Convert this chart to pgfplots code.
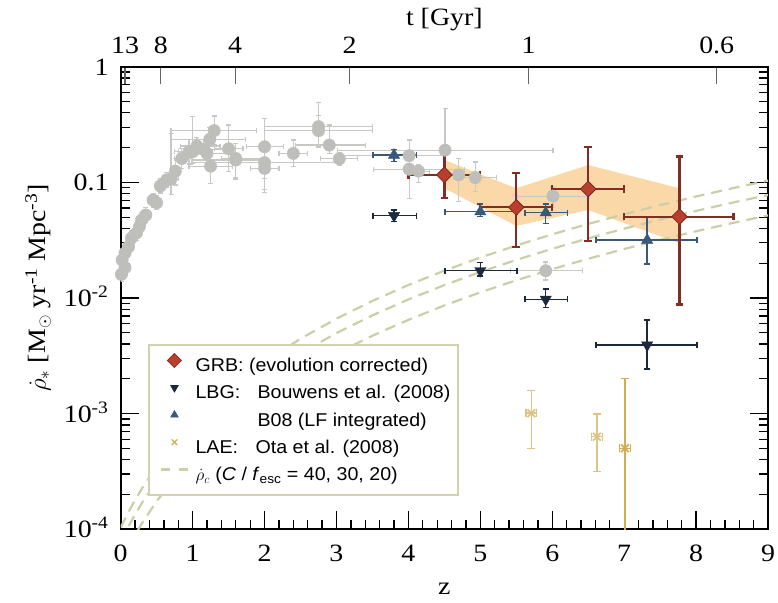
\documentclass[border=0pt]{standalone}
\usepackage{fontspec}
\setmainfont{Liberation Serif}[FakeStretch=1.12]
\newfontfamily\legfont{Liberation Sans}[FakeStretch=1.06]
\usepackage{pgfplots}
\usepackage{pgfplotstable}
\pgfplotsset{compat=1.18}

\definecolor{greypt}{RGB}{190,190,186}
\definecolor{greybar}{RGB}{200,200,196}
\definecolor{grbfill}{RGB}{186,62,45}
\definecolor{grbdraw}{RGB}{125,40,30}
\definecolor{grbbar}{RGB}{128,46,36}
\definecolor{bzero}{RGB}{58,88,122}
\definecolor{lbg}{RGB}{28,40,60}
\definecolor{laeA}{RGB}{222,196,132}
\definecolor{laeB}{RGB}{212,172,82}
\definecolor{critc}{RGB}{203,207,168}
\definecolor{bandc}{RGB}{250,216,168}
\definecolor{legc}{RGB}{208,210,176}
\definecolor{tickgrey}{RGB}{100,100,100}

\pgfplotstableread{
z y zm zp ym yp
0.01 0.0160 0.01 0.05 0.0020 0.0020
0.06 0.0183 0.03 0.04 0.0025 0.0025
0.02 0.0213 0.02 0.05 0.0030 0.0030
0.06 0.0245 0.04 0.04 0.0030 0.0035
0.11 0.0278 0.05 0.05 0.0035 0.0040
0.15 0.0330 0.05 0.05 0.0045 0.0050
0.22 0.0365 0.05 0.05 0.0050 0.0060
0.26 0.0414 0.05 0.05 0.0060 0.0070
0.29 0.0472 0.05 0.05 0.0070 0.0080
0.35 0.0522 0.05 0.05 0.0070 0.0080
0.45 0.0703 0.05 0.05 0.0090 0.0100
0.50 0.0667 0.05 0.05 0.0080 0.0100
0.55 0.0930 0.05 0.05 0.0120 0.0140
0.64 0.1050 0.05 0.05 0.0140 0.0160
0.70 0.1070 0.10 0.10 0.0280 0.1590
0.76 0.1250 0.06 0.06 0.0300 0.0350
0.85 0.1610 0.10 0.15 0.0300 0.0350
0.95 0.1840 0.15 0.15 0.0400 0.0500
1.00 0.1840 0.25 0.25 0.0380 0.1900
1.06 0.2060 0.23 0.32 0.0300 0.0400
1.15 0.1930 0.15 0.35 0.0200 0.0400
1.20 0.1780 0.25 0.35 0.0400 0.0500
1.24 0.2360 0.54 0.50 0.0500 0.0600
1.30 0.2800 0.60 0.59 0.0700 0.0950
1.25 0.1380 0.30 0.30 0.0400 0.0520
1.50 0.1950 0.20 0.20 0.0710 0.1180
1.60 0.1610 0.20 0.40 0.0520 0.0570
1.60 0.1560 0.61 0.43 0.0500 0.0600
2.00 0.2030 0.25 0.26 0.1160 0.1550
2.00 0.1480 1.00 1.05 0.0400 0.0500
2.00 0.1320 0.20 0.20 0.0500 0.0600
2.40 0.1780 0.20 0.20 0.0400 0.0540
2.75 0.3030 0.75 0.75 0.1000 0.1900
2.75 0.2800 0.75 0.75 0.0800 0.1000
2.90 0.2100 0.47 0.50 0.0320 0.1030
3.04 0.1600 0.26 0.25 0.0200 0.0200
4.01 0.1700 1.00 0.50 0.0380 0.0620
4.01 0.1300 0.50 0.77 0.0570 0.0260
4.14 0.1250 0.15 0.15 0.0260 0.0160
4.51 0.1900 1.50 1.50 0.0700 0.2470
4.70 0.1160 0.20 0.20 0.0480 0.0450
4.93 0.1100 0.30 0.30 0.0270 0.0400
6.01 0.0760 0.50 0.50 0.0150 0.0150
5.91 0.0172 0.49 0.51 0.0029 0.0033
}\greydata

\pgfplotstableread{
z y zm zp ym yp
4.50 0.1160 0.50 0.50 0.0432 0.0620
5.50 0.0608 0.50 0.50 0.0330 0.0602
6.50 0.0876 0.50 0.50 0.0563 0.1154
7.77 0.0505 0.77 0.75 0.0417 0.1165
}\grbdata

\pgfplotstableread{
z y zm zp ym yp
3.80 0.1720 0.29 0.31 0.0200 0.0200
5.00 0.0557 0.49 0.51 0.0052 0.0093
5.91 0.0547 0.29 0.30 0.0104 0.0103
7.32 0.0317 0.71 0.69 0.0120 0.0188
}\bzerodata

\pgfplotstableread{
z y zm zp ym yp
3.80 0.0515 0.29 0.31 0.0057 0.0061
5.00 0.0172 0.49 0.51 0.0017 0.0031
5.91 0.00975 0.29 0.30 0.00145 0.00222
7.32 0.00392 0.71 0.69 0.00149 0.00254
}\lbgdata

\pgfplotstableread{
z y ym yp
5.71 0.00101 0.000508 0.00057
6.62 0.000632 0.000317 0.000361
}\laeAdata

\pgfplotstableread{
z y ym yp
7.01 0.000502 0.000497 0.0015
}\laeBdata

\pgfplotsset{
 legmark/.style={only marks, legend image code/.code={\path[draw=none,fill=none] (0bp,-2bp) rectangle (34bp,14bp); \draw[##1] plot coordinates {(19bp,6.5bp)};}},
 legline/.style={legend image code/.code={\path[draw=none,fill=none] (0bp,-2bp) rectangle (34bp,14bp); \draw[##1] (5.5bp,6.5bp) -- (33.5bp,6.5bp);}},
}

\begin{document}
\begin{tikzpicture}
\begin{axis}[
  width=647.3bp, height=462.6bp, scale only axis,
  xmin=0, xmax=9, ymode=log, ymin=1e-4, ymax=1,
  xtick={0,1,2,3,4,5,6,7,8,9},
  xticklabels={0,1,2,3,4,5,6,7,8,9},
  minor x tick num=4,
  ytick={1e-4,1e-3,1e-2,1e-1,1},
  yticklabels={10\textsuperscript{-4},10\textsuperscript{-3},10\textsuperscript{-2},0.1,1},
  xtick pos=left,
  tick align=inside,
  major tick length=18bp, minor tick length=9bp,
  every tick/.append style={line width=1.3bp, black},
  axis line style={line width=2.3bp},
  ticklabel style={font=\fontsize{25}{29}\selectfont},
  xticklabel style={anchor=base, yshift=-32.6bp},
  yticklabel style={anchor=base east, inner sep=0pt, xshift=-12bp, yshift=-8.5bp},
  xlabel={z},
  xlabel style={at={(axis description cs:0.5,-0.140)}, anchor=base, font=\fontsize{25}{29}\selectfont},
  ylabel={$\dot{\rho}_*$\ [M$_\odot$ yr\textsuperscript{-1} Mpc\textsuperscript{-3}]},
  ylabel style={at={(axis description cs:-0.1155,0.522)}, anchor=base, font=\fontsize{25}{29}\selectfont},
  legend style={at={(axis description cs:0.0429,0.4006)}, anchor=north west,
    draw=legc, line width=2bp, fill=white,
    font=\legfont\fontsize{18.6}{22}\selectfont,
    inner xsep=6bp, inner ysep=8bp, row sep=2bp, column sep=3.5bp,
    nodes={inner sep=2bp, text height=14bp, text depth=4.5bp}},
  legend cell align=left,
]
\coordinate (BL) at (rel axis cs:0,0);
\coordinate (TR) at (rel axis cs:1,1);

% shaded GRB band
\addplot[fill=bandc, draw=none, forget plot] coordinates {
 (4.5,0.156) (5.5,0.0889) (6.5,0.141) (7.77,0.0889)
 (7.77,0.0297) (6.5,0.0577) (5.5,0.042) (4.5,0.0889)};

% critical SFR density curves
\addplot[critc, line width=2.2bp, dash pattern=on 11bp off 7bp, forget plot] coordinates {
 (0,1.036e-4) (0.1,1.379e-4) (0.2,1.790e-4) (0.3,2.276e-4) (0.5,3.497e-4) (0.75,5.552e-4)
 (1,8.288e-4) (1.5,1.619e-3) (2,2.797e-3) (2.5,4.442e-3) (3,6.630e-3) (3.5,9.440e-3)
 (4,1.295e-2) (4.5,1.724e-2) (5,2.238e-2) (5.5,2.845e-2) (6,3.553e-2) (6.5,4.371e-2)
 (7,5.304e-2) (7.5,6.362e-2) (8,7.552e-2) (8.5,8.882e-2) (9,0.1036)};
\addplot[critc, line width=2.2bp, dash pattern=on 11bp off 7bp, forget plot] coordinates {
 (0,7.77e-5) (0.1,1.034e-4) (0.2,1.343e-4) (0.3,1.707e-4) (0.5,2.622e-4) (0.75,4.164e-4)
 (1,6.216e-4) (1.5,1.214e-3) (2,2.098e-3) (2.5,3.331e-3) (3,4.973e-3) (3.5,7.080e-3)
 (4,9.713e-3) (4.5,1.293e-2) (5,1.678e-2) (5.5,2.134e-2) (6,2.665e-2) (6.5,3.278e-2)
 (7,3.978e-2) (7.5,4.772e-2) (8,5.664e-2) (8.5,6.662e-2) (9,7.77e-2)};
\addplot[critc, line width=2.2bp, dash pattern=on 11bp off 7bp, forget plot] coordinates {
 (0,5.18e-5) (0.1,6.89e-5) (0.2,8.95e-5) (0.3,1.138e-4) (0.5,1.748e-4) (0.75,2.776e-4)
 (1,4.144e-4) (1.5,8.094e-4) (2,1.399e-3) (2.5,2.221e-3) (3,3.315e-3) (3.5,4.720e-3)
 (4,6.475e-3) (4.5,8.620e-3) (5,1.119e-2) (5.5,1.423e-2) (6,1.777e-2) (6.5,2.185e-2)
 (7,2.652e-2) (7.5,3.181e-2) (8,3.776e-2) (8.5,4.441e-2) (9,5.18e-2)};

% grey compilation
\addplot[forget plot, only marks, mark=*, mark size=6.2bp, mark options={fill=greypt, draw=greypt},
  error bars/.cd, x dir=both, x explicit, y dir=both, y explicit,
  error bar style={greybar, line width=1.2bp},
  error mark options={rotate=90, greybar, line width=1.2bp, mark size=2.5bp}]
  table[x=z, y=y, x error minus=zm, x error plus=zp, y error minus=ym, y error plus=yp]{\greydata};

% LBG Bouwens
\addplot[forget plot, only marks, mark=triangle*, mark size=6.5bp, mark options={rotate=180, fill=lbg, draw=lbg},
  error bars/.cd, x dir=both, x explicit, y dir=both, y explicit,
  error bar style={lbg, line width=1.4bp},
  error mark options={rotate=90, lbg, line width=1.4bp, mark size=3bp}]
  table[x=z, y=y, x error minus=zm, x error plus=zp, y error minus=ym, y error plus=yp]{\lbgdata};

% B08 LF integrated
\addplot[forget plot, only marks, mark=triangle*, mark size=6.5bp, mark options={fill=bzero, draw=bzero},
  error bars/.cd, x dir=both, x explicit, y dir=both, y explicit,
  error bar style={bzero, line width=1.4bp},
  error mark options={rotate=90, bzero, line width=1.4bp, mark size=3bp}]
  table[x=z, y=y, x error minus=zm, x error plus=zp, y error minus=ym, y error plus=yp]{\bzerodata};

% GRB
\addplot[forget plot, only marks, mark=square*, mark size=5.5bp, mark options={rotate=45, fill=grbfill, draw=grbdraw, line width=0.8bp},
  error bars/.cd, x dir=both, x explicit, y dir=both, y explicit,
  error bar style={grbbar, line width=2.3bp},
  error mark options={rotate=90, grbbar, line width=2.3bp, mark size=3.8bp}]
  table[x=z, y=y, x error minus=zm, x error plus=zp, y error minus=ym, y error plus=yp]{\grbdata};

% LAE Ota
\addplot[forget plot, only marks, mark=x, mark size=5.5bp, mark options={laeA, line width=1.8bp},
  error bars/.cd, x dir=both, x fixed=0.075, y dir=both, y explicit,
  error bar style={laeA, line width=1.4bp},
  error mark options={rotate=90, laeA, line width=1.4bp, mark size=4bp}]
  table[x=z, y=y, y error minus=ym, y error plus=yp]{\laeAdata};
\addplot[forget plot, only marks, mark=x, mark size=5.5bp, mark options={laeB, line width=1.8bp},
  error bars/.cd, x dir=both, x fixed=0.075, y dir=both, y explicit,
  error bar style={laeB, line width=1.4bp},
  error mark options={rotate=90, laeB, line width=1.4bp, mark size=4bp}]
  table[x=z, y=y, y error minus=ym, y error plus=yp]{\laeBdata};

% legend
\addlegendimage{legmark, mark=square*, mark size=5bp, mark options={rotate=45, fill=grbfill, draw=grbdraw, line width=0.6bp}}
\addlegendentry{GRB: (evolution corrected)}
\addlegendimage{legmark, mark=triangle*, mark size=4.4bp, mark options={rotate=180, fill=lbg, draw=lbg, line width=0.6bp}}
\addlegendentry{\makebox[62bp][l]{LBG:}Bouwens et al. (2008)}
\addlegendimage{legmark, mark=triangle*, mark size=4.4bp, mark options={fill=bzero, draw=bzero, line width=0.6bp}}
\addlegendentry{\hspace*{62bp}B08 (LF integrated)}
\addlegendimage{legmark, mark=x, mark size=4bp, mark options={laeB, line width=1.2bp}}
\addlegendentry{\makebox[60bp][l]{LAE:}Ota et al. (2008)}
\addlegendimage{legline, critc, line width=2.2bp, dash pattern=on 9bp off 9bp}
\addlegendentry{$\dot{\rho}_c$ (\textit{C} / \textit{f}\textsubscript{esc} = 40, 30, 20)}
\end{axis}

\begin{axis}[
  width=647.3bp, height=462.6bp, scale only axis,
  xmin=0, xmax=9, ymin=0, ymax=1,
  axis x line*=top, hide y axis,
  xtick={0.06,0.557,1.592,3.184,5.673,8.287},
  xticklabels={13,8,4,2,1,0.6},
  minor xtick={},
  tick align=inside, major tick length=17bp,
  every tick/.append style={line width=1.3bp, tickgrey},
  axis line style={line width=2.3bp},
  ticklabel style={font=\fontsize{25}{29}\selectfont},
  xticklabel style={anchor=base, yshift=12.7bp},
  xlabel={t [Gyr]},
  xlabel style={at={(axis description cs:0.5,1.090)}, anchor=base, font=\fontsize{25}{29}\selectfont},
]
\addplot[draw=none, forget plot] coordinates {(0,0.5)};
\end{axis}
\pgfresetboundingbox
\path ([xshift=-120.7bp,yshift=-72.7bp]BL) rectangle ([xshift=10bp,yshift=66.7bp]TR);
\end{tikzpicture}
\end{document}
